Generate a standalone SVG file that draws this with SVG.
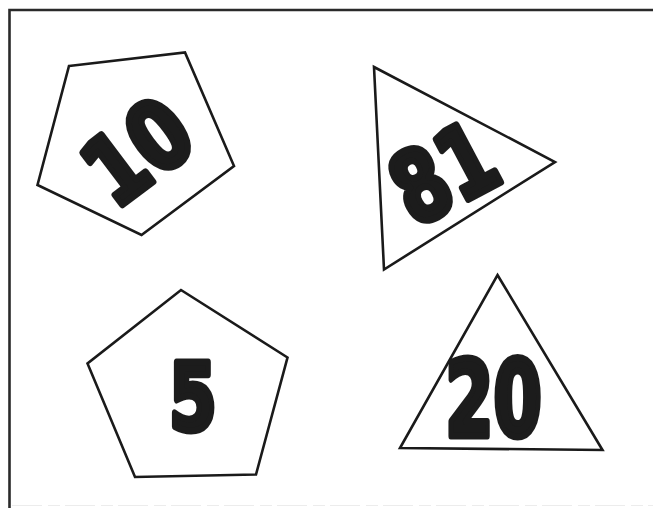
<svg xmlns="http://www.w3.org/2000/svg" width="653" height="508" viewBox="0 0 653 508">
<style>
.shape{fill:#fff;stroke:#1a1a1a;stroke-width:2.6;stroke-linejoin:miter}
.num{font-family:"DejaVu Sans","Liberation Sans",sans-serif;font-weight:bold;fill:#1c1c1c;stroke:#1c1c1c;stroke-width:7;stroke-linejoin:round;text-anchor:middle}
.frame{fill:none;stroke:#2a2a2a;stroke-width:2.6}
</style>
<rect width="653" height="508" fill="#fff"/>
<g id="frame">
<path class="frame" d="M653 10 L9.5 10 L9.5 508"/>
<line x1="12" y1="505.5" x2="653" y2="505.5" stroke="#ececec" stroke-width="1" stroke-dasharray="30 6 12 5"/>
</g>
<g id="node-10">
<polygon class="shape" points="69,66 185,52.5 234,166 141.5,235 37.5,185"/>
<text class="num" font-size="94" transform="translate(137,151) rotate(-37) scale(0.82,1)" y="34">10</text>
</g>
<g id="node-81">
<polygon class="shape" points="374,67 555,162 384,269.5"/>
<text class="num" font-size="98" transform="translate(443,172) rotate(-28) scale(0.76,1)" y="36">81</text>
</g>
<g id="node-5">
<polygon class="shape" points="181,290 287.5,357.5 256,474.5 135,477 87.5,363.5"/>
<text class="num" font-size="92" transform="translate(193,396.5) scale(0.74,1)" y="33.5">5</text>
</g>
<g id="node-20">
<polygon class="shape" points="497.5,275 602.5,450 400,448"/>
<text class="num" font-size="105" transform="translate(493.5,398) scale(0.66,1)" y="38">20</text>
</g>
</svg>
